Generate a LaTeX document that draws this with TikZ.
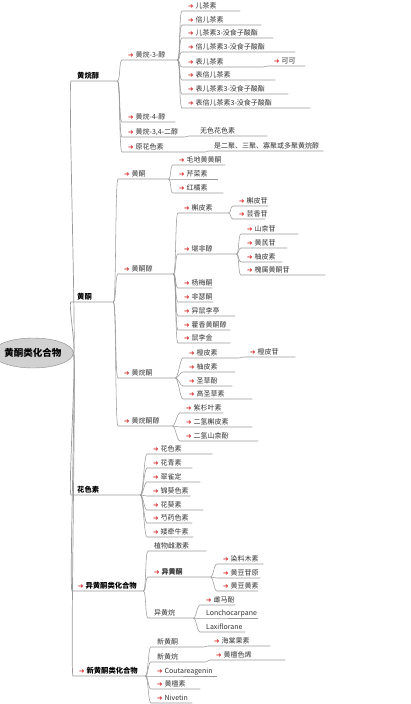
\documentclass[tikz,border=0pt]{standalone}
\usepackage{fontspec}
\setmainfont{Noto Sans CJK SC}
\newfontfamily\arrfont{DejaVu Sans}
\usetikzlibrary{shapes.geometric}
\definecolor{arrred}{HTML}{D81818}
\definecolor{linegray}{HTML}{9A9A9A}
\newcommand{\redarr}{{\arrfont\fontsize{6.5}{7}\selectfont\color{arrred}➔}\hspace{2pt}}
\begin{document}
\begin{tikzpicture}[x=1pt,y=-1pt,
  link/.style={draw=linegray,line width=0.55pt},
  lf/.style={anchor=south west,inner xsep=0pt,inner ysep=1.2pt,text height=5pt,text depth=1pt,
    font=\fontsize{7}{8}\selectfont,text=black!80},
  top/.style={lf,font=\fontsize{7.3}{8}\selectfont\bfseries,text=black},
  root/.style={ellipse,draw=black!45,fill=black!18,minimum width=66pt,minimum height=30pt,
    inner sep=0pt,font=\fontsize{9.5}{10}\selectfont\bfseries}]
 \useasboundingbox (0,0) rectangle (410,704);
 \node[root] (root) at (33,353) {黄酮类化合物};
 % first level
 \foreach \n/\x/\y/\e/\t [evaluate=\e as \w using \e-\x] in {a1/71/81/117/{黄烷醇},a2/71/302/113/{黄酮},
   a3/71/495/140/{花色素},a4/72/591/143/{\redarr 异黄酮类化合物},a5/73/676/145/{\redarr 新黄酮类化合物}}
   \node[top] (\n) at (\x,\y) {\makebox[\w pt][l]{\hspace*{6pt}\t}};
 % all the other branches
 \foreach \n/\x/\y/\e/\t [evaluate=\e as \w using \e-\x] in {
   b1/122/60/177/{\redarr 黄烷-3-醇},b2/122/122/175/{\redarr 黄烷-4-醇},
   b3/122/137/184/{\redarr 黄烷-3,4-二醇},b4/122/152/205/{\redarr 原花色素},
   c1/182/11/240/{\redarr 儿茶素},c2/182/25/261/{\redarr 倍儿茶素},
   c3/182/38/273/{\redarr 儿茶素3-没食子酸酯},c4/182/52/295/{\redarr 倍儿茶素3-没食子酸酯},
   c5/182/67/263/{\redarr 表儿茶素},c6/182/80/275/{\redarr 表倍儿茶素},
   c7/182/94/288/{\redarr 表儿茶素3-没食子酸酯},c8/182/108/310/{\redarr 表倍儿茶素3-没食子酸酯},
   d1/268/66/305/{\redarr 可可},
   b3x/189/136/267/{\hspace*{5pt}无色花色素},b4x/208/151/323/{是二聚、三聚、寡聚或多聚黄烷醇},
   e1/118/179/168/{\redarr 黄酮},e2/118/274/173/{\redarr 黄酮醇},
   e3/118/378/175/{\redarr 黄烷酮},e4/118/426/172/{\redarr 黄烷酮醇},
   m1/173/165/225/{\redarr 毛地黄黄酮},m2/173/179/218/{\redarr 芹菜素},m3/173/193/223/{\redarr 红橘素},
   n1/178/213/228/{\redarr 槲皮素},n2/178/254/236/{\redarr 堪非醇},n3/178/288/212/{\redarr 杨梅酮},
   n4/178/302/213/{\redarr 非瑟酮},n5/178/316/235/{\redarr 异鼠李亭},
   n6/178/330/230/{\redarr 藿香黄酮醇},n7/178/343/230/{\redarr 鼠李金},
   q1/233/206/268/{\redarr 槲皮苷},q2/233/219/265/{\redarr 芸香苷},
   k1/241/234/298/{\redarr 山柰苷},k2/241/248/287/{\redarr 黄芪苷},
   k3/241/262/282/{\redarr 柚皮素},k4/241/275/325/{\redarr 槐属黄酮苷},
   r1/183/358/238/{\redarr 橙皮素},r2/183/372/235/{\redarr 柚皮素},
   r3/183/386/232/{\redarr 圣草酚},r4/183/399/252/{\redarr 高圣草素},
   r1x/244/357/295/{\redarr 橙皮苷},
   s1/180/413/223/{\redarr 紫杉叶素},s2/180/427/252/{\redarr 二氢槲皮素},s3/180/441/258/{\redarr 二氢山柰酚},
   h1/147/454/212/{\redarr 花色素},h2/147/468/192/{\redarr 花青素},h3/147/482/200/{\redarr 翠雀定},
   h4/147/496/190/{\redarr 锦葵色素},h5/147/510/203/{\redarr 花葵素},h6/147/523/192/{\redarr 芍药色素},
   h7/147/537/193/{\redarr 矮牵牛素},
   f1/148/551/206/{植物雌激素},f2/148/577/210/{\bfseries\redarr 异黄酮},f3/148/618/193/{异黄烷},
   t1/217/564/263/{\redarr 染料木素},t2/217/578/260/{\redarr 黄豆苷原},t3/217/591/258/{\redarr 黄豆黄素},
   u1/200/605/235/{\redarr 雌马酚},u2/200/618/258/{Lonchocarpane},u3/200/632/245/{Laxiflorane},
   g1/151/647/203/{新黄酮},g2/151/662/205/{新黄烷},g3/151/676/217/{\redarr Coutareagenin},
   g4/151/689/200/{\redarr 黄檀素},g5/151/703/192/{\redarr Nivetin},
   g1x/208/646/270/{\redarr 海棠果素},g2x/210/660/285/{\redarr 黄檀色烯}}
   \node[lf] (\n) at (\x,\y) {\makebox[\w pt][l]{\hspace*{6pt}\t}};
 % connectors
 \foreach \c in {a1,a2,a3,a4,a5}
   \draw[link,line width=0.7pt] (root.east) .. controls +(3,0) and +(-3,0) .. (\c.south west) -- (\c.south east);
 \foreach \p/\c in {a1/b1,a1/b2,a1/b3,a1/b4,b1/c1,b1/c2,b1/c3,b1/c4,b1/c5,b1/c6,b1/c7,b1/c8,c5/d1,
   b3/b3x,b4/b4x,a2/e1,a2/e2,a2/e3,a2/e4,e1/m1,e1/m2,e1/m3,e2/n1,e2/n2,e2/n3,e2/n4,e2/n5,e2/n6,e2/n7,
   n1/q1,n1/q2,n2/k1,n2/k2,n2/k3,n2/k4,e3/r1,e3/r2,e3/r3,e3/r4,r1/r1x,e4/s1,e4/s2,e4/s3,
   a3/h1,a3/h2,a3/h3,a3/h4,a3/h5,a3/h6,a3/h7,a4/f1,a4/f2,a4/f3,f2/t1,f2/t2,f2/t3,f3/u1,f3/u2,f3/u3,
   a5/g1,a5/g2,a5/g3,a5/g4,a5/g5,g1/g1x,g2/g2x}
   \draw[link] (\p.south east) .. controls +(3,0) and +(-3,0) .. (\c.south west) -- (\c.south east);
\end{tikzpicture}
\end{document}
